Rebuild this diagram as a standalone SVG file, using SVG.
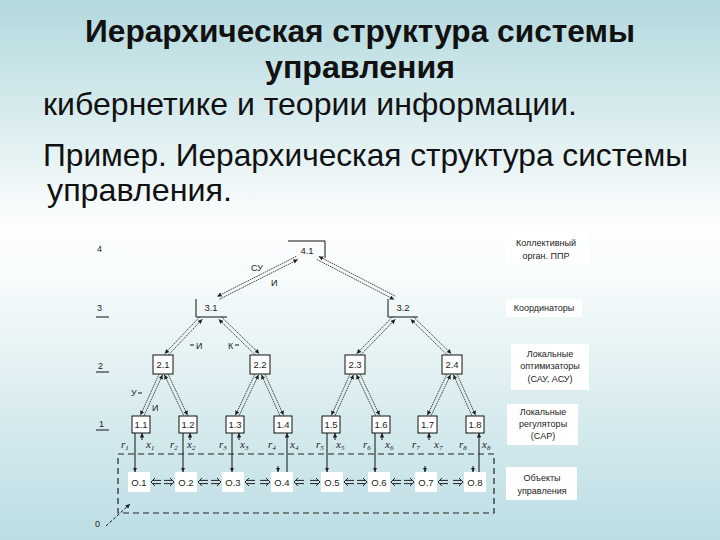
<svg xmlns="http://www.w3.org/2000/svg" xmlns:xlink="http://www.w3.org/1999/xlink" width="720" height="540" viewBox="0 0 720 540">
<defs>
<linearGradient id="bg" x1="0" y1="0" x2="0" y2="1">
<stop offset="0" stop-color="#b3d9de"/>
<stop offset="0.42" stop-color="#fdfefe"/>
<stop offset="0.52" stop-color="#f6fbfb"/>
<stop offset="1" stop-color="#bcdde4"/>
</linearGradient>
<marker id="ah" viewBox="0 0 6 6" refX="6" refY="3" markerWidth="4.5" markerHeight="4.5" orient="auto-start-reverse" markerUnits="userSpaceOnUse"><path d="M0,0 L6,3 L0,6 z" fill="#222"/></marker>
<g id="dl"><path d="M4,-4 L0,0 L4,4 M2,-1.6 H10 M2,1.6 H10" fill="none" stroke="#222" stroke-width="1"/></g>
<g id="dr"><path d="M-4,-4 L0,0 L-4,4 M-2,-1.6 H-10 M-2,1.6 H-10" fill="none" stroke="#222" stroke-width="1"/></g>
<style>
.t1{font-family:"Liberation Sans",Arial,sans-serif;font-weight:bold;font-size:32px;fill:#111}
.t2{font-family:"Liberation Sans",Arial,sans-serif;font-size:32px;fill:#111}
.nl{font-family:"Liberation Sans",Arial,sans-serif;font-size:9.5px;fill:#222;text-anchor:middle}
.lab{font-family:"Liberation Sans",Arial,sans-serif;font-size:9px;fill:#222;text-anchor:middle}
.lv{font-family:"Liberation Sans",Arial,sans-serif;font-size:9px;fill:#222}
.rx{font-family:"Liberation Serif","Times New Roman",serif;font-style:italic;font-size:11px;fill:#222}
.box{fill:#fff;stroke:#111;stroke-width:1}
.obox{fill:#fff;stroke:none}
.br{fill:none;stroke:#111;stroke-width:1}
.cn{fill:none;stroke:#333;stroke-width:0.9;stroke-dasharray:1.6 0.8}
.vl{fill:none;stroke:#111;stroke-width:1}
.dash{fill:none;stroke:#222;stroke-width:1.2;stroke-dasharray:6 4}
.wb{fill:#fff;stroke:none}
</style>
</defs>
<rect x="0" y="0" width="720" height="540" fill="url(#bg)"/>

<g id="title">
<text class="t1" x="360" y="42" text-anchor="middle" textLength="550" lengthAdjust="spacingAndGlyphs">Иерархическая структура системы</text>
<text class="t1" x="360" y="78" text-anchor="middle" textLength="190" lengthAdjust="spacingAndGlyphs">управления</text>
<text class="t2" x="43" y="115" textLength="534" lengthAdjust="spacingAndGlyphs">кибернетике и теории информации.</text>
<text class="t2" x="43" y="166" font-size="31" textLength="645" lengthAdjust="spacingAndGlyphs">Пример. Иерархическая структура системы</text>
<text class="t2" x="47" y="201" textLength="185" lengthAdjust="spacingAndGlyphs">управления.</text>
</g>

<g id="levels">
<text class="lv" x="97" y="252">4</text>
<text class="lv" x="97" y="311">3</text>
<path class="vl" d="M96,317 H109 M96,372 H109 M96,430 H109"/>
<text class="lv" x="98" y="369">2</text>
<text class="lv" x="99" y="427">1</text>
<text class="lv" x="95" y="527">0</text>
</g>

<g id="legend">
<rect class="wb" x="505" y="232" width="84" height="32"/>
<text class="lab" x="546" y="246">Коллективный</text>
<text class="lab" x="546" y="259">орган. ППР</text>
<rect class="wb" x="506" y="299" width="76" height="18"/>
<text class="lab" x="544" y="311">Координаторы</text>
<rect class="wb" x="511" y="344" width="78" height="46"/>
<text class="lab" x="550" y="357">Локальные</text>
<text class="lab" x="550" y="369">оптимизаторы</text>
<text class="lab" x="550" y="382">(САУ, АСУ)</text>
<rect class="wb" x="507" y="404" width="71" height="41"/>
<text class="lab" x="543" y="415">Локальные</text>
<text class="lab" x="543" y="427">регуляторы</text>
<text class="lab" x="543" y="439">(САР)</text>
<rect class="wb" x="506" y="467" width="71" height="33"/>
<text class="lab" x="542" y="481">Объекты</text>
<text class="lab" x="542" y="494">управления</text>
</g>

<g id="connectors">
<line class="cn" x1="296.2" y1="256.4" x2="217.2" y2="296.4" marker-end="url(#ah)"/>
<line class="cn" x1="297.8" y1="259.6" x2="218.8" y2="299.6" marker-start="url(#ah)"/>
<line class="cn" x1="317.2" y1="259.6" x2="394.2" y2="299.6" marker-end="url(#ah)"/>
<line class="cn" x1="318.8" y1="256.4" x2="395.8" y2="296.4" marker-start="url(#ah)"/>
<line class="cn" x1="199.7" y1="316.8" x2="164.7" y2="353.8" marker-end="url(#ah)"/>
<line class="cn" x1="202.3" y1="319.2" x2="167.3" y2="356.2" marker-start="url(#ah)"/>
<line class="cn" x1="218.7" y1="319.3" x2="256.7" y2="356.3" marker-start="url(#ah)"/>
<line class="cn" x1="221.3" y1="316.7" x2="259.3" y2="353.7" marker-end="url(#ah)"/>
<line class="cn" x1="392.7" y1="316.7" x2="356.7" y2="353.7" marker-end="url(#ah)"/>
<line class="cn" x1="395.3" y1="319.3" x2="359.3" y2="356.3" marker-start="url(#ah)"/>
<line class="cn" x1="410.7" y1="319.3" x2="448.7" y2="356.3" marker-start="url(#ah)"/>
<line class="cn" x1="413.3" y1="316.7" x2="451.3" y2="353.7" marker-end="url(#ah)"/>
<line class="cn" x1="159.4" y1="373.3" x2="140.4" y2="415.3" marker-end="url(#ah)"/>
<line class="cn" x1="162.6" y1="374.7" x2="143.6" y2="416.7" marker-start="url(#ah)"/>
<line class="cn" x1="164.4" y1="374.8" x2="184.4" y2="416.8" marker-start="url(#ah)"/>
<line class="cn" x1="167.6" y1="373.2" x2="187.6" y2="415.2" marker-end="url(#ah)"/>
<line class="cn" x1="255.4" y1="373.2" x2="235.4" y2="415.2" marker-end="url(#ah)"/>
<line class="cn" x1="258.6" y1="374.8" x2="238.6" y2="416.8" marker-start="url(#ah)"/>
<line class="cn" x1="261.4" y1="374.7" x2="280.4" y2="416.7" marker-start="url(#ah)"/>
<line class="cn" x1="264.6" y1="373.3" x2="283.6" y2="415.3" marker-end="url(#ah)"/>
<line class="cn" x1="350.4" y1="373.3" x2="331.4" y2="415.3" marker-end="url(#ah)"/>
<line class="cn" x1="353.6" y1="374.7" x2="334.6" y2="416.7" marker-start="url(#ah)"/>
<line class="cn" x1="356.4" y1="374.8" x2="376.4" y2="416.8" marker-start="url(#ah)"/>
<line class="cn" x1="359.6" y1="373.2" x2="379.6" y2="415.2" marker-end="url(#ah)"/>
<line class="cn" x1="447.4" y1="373.2" x2="427.4" y2="415.2" marker-end="url(#ah)"/>
<line class="cn" x1="450.6" y1="374.8" x2="430.6" y2="416.8" marker-start="url(#ah)"/>
<line class="cn" x1="453.4" y1="374.7" x2="472.4" y2="416.7" marker-start="url(#ah)"/>
<line class="cn" x1="456.6" y1="373.3" x2="475.6" y2="415.3" marker-end="url(#ah)"/>

<text class="lv" x="251" y="271">СУ</text>
<text class="lv" x="271" y="286">И</text>
<text class="lv" x="196" y="349">И</text>
<path class="vl" d="M190,345 H194" stroke-width="0.7"/>
<text class="lv" x="228" y="349">К</text>
<path class="vl" d="M235,345 H239" stroke-width="0.7"/>
<text class="lv" x="131" y="396">У</text>
<path class="vl" d="M138,393 H142" stroke-width="0.7"/>
<text class="lv" x="152" y="411">И</text>

<path class="vl" d="M135,433 V472" marker-end="url(#ah)"/>
<path class="vl" d="M183,433 V472" marker-end="url(#ah)"/>
<path class="vl" d="M232,433 V472" marker-end="url(#ah)"/>
<path class="vl" d="M287,472 V433" marker-end="url(#ah)"/>
<path class="vl" d="M327,433 V472" marker-end="url(#ah)"/>
<path class="vl" d="M375,433 V472" marker-end="url(#ah)"/>
<path class="vl" d="M479,472 V433" marker-end="url(#ah)"/>
<path class="vl" d="M142,440 V433" marker-end="url(#ah)"/>
<path class="vl" d="M190,440 V433" marker-end="url(#ah)"/>
<path class="vl" d="M239,440 V433" marker-end="url(#ah)"/>
<path class="vl" d="M335,440 V433" marker-end="url(#ah)"/>
<path class="vl" d="M382,440 V433" marker-end="url(#ah)"/>
<path class="vl" d="M429,440 V433" marker-end="url(#ah)"/>
<path class="vl" d="M278,466 V472" marker-end="url(#ah)"/>
<path class="vl" d="M425,466 V472" marker-end="url(#ah)"/>
<path class="vl" d="M473,466 V472" marker-end="url(#ah)"/>

<text class="rx" x="121" y="448">r<tspan dy="2" font-size="7">1</tspan></text>
<text class="rx" x="146" y="448">x<tspan dy="2" font-size="7">1</tspan></text>
<text class="rx" x="170" y="448">r<tspan dy="2" font-size="7">2</tspan></text>
<text class="rx" x="187" y="448">x<tspan dy="2" font-size="7">2</tspan></text>
<text class="rx" x="219" y="448">r<tspan dy="2" font-size="7">3</tspan></text>
<text class="rx" x="240" y="448">x<tspan dy="2" font-size="7">3</tspan></text>
<text class="rx" x="268" y="448">r<tspan dy="2" font-size="7">4</tspan></text>
<text class="rx" x="290" y="448">x<tspan dy="2" font-size="7">4</tspan></text>
<text class="rx" x="316" y="448">r<tspan dy="2" font-size="7">5</tspan></text>
<text class="rx" x="336" y="448">x<tspan dy="2" font-size="7">5</tspan></text>
<text class="rx" x="363" y="448">r<tspan dy="2" font-size="7">6</tspan></text>
<text class="rx" x="385" y="448">x<tspan dy="2" font-size="7">6</tspan></text>
<text class="rx" x="412" y="448">r<tspan dy="2" font-size="7">7</tspan></text>
<text class="rx" x="434" y="448">x<tspan dy="2" font-size="7">7</tspan></text>
<text class="rx" x="459" y="448">r<tspan dy="2" font-size="7">8</tspan></text>
<text class="rx" x="482" y="448">x<tspan dy="2" font-size="7">8</tspan></text>

<path class="dash" d="M118,454 H494 V513 H118 Z"/>
<path class="vl" d="M106,526 L130,504" stroke-dasharray="3 2" marker-end="url(#ah)"/>

<use xlink:href="#dl" x="151" y="482"/><use xlink:href="#dr" x="174" y="482"/>
<use xlink:href="#dl" x="198" y="482"/><use xlink:href="#dr" x="221" y="482"/>
<use xlink:href="#dl" x="245" y="482"/><use xlink:href="#dr" x="270" y="482"/>
<use xlink:href="#dl" x="294" y="482"/><use xlink:href="#dr" x="320" y="482"/>
<use xlink:href="#dl" x="344" y="482"/><use xlink:href="#dr" x="367" y="482"/>
<use xlink:href="#dl" x="391" y="482"/><use xlink:href="#dr" x="414" y="482"/>
<use xlink:href="#dl" x="438" y="482"/><use xlink:href="#dr" x="463" y="482"/>
</g>

<g id="n41"><path class="br" d="M288,241 H325 V258"/><text class="nl" x="307" y="254">4.1</text></g>
<g id="n31"><path class="br" d="M196,299 V317 H227"/><text class="nl" x="211" y="311">3.1</text></g>
<g id="n32"><path class="br" d="M388,299 V317 H418"/><text class="nl" x="403" y="311">3.2</text></g>

<g id="n21"><rect class="box" x="153" y="355" width="20" height="19"/><text class="nl" x="163" y="368">2.1</text></g>
<g id="n22"><rect class="box" x="250" y="355" width="20" height="19"/><text class="nl" x="260" y="368">2.2</text></g>
<g id="n23"><rect class="box" x="345" y="355" width="20" height="19"/><text class="nl" x="355" y="368">2.3</text></g>
<g id="n24"><rect class="box" x="442" y="355" width="20" height="19"/><text class="nl" x="452" y="368">2.4</text></g>

<g id="n11"><rect class="box" x="132" y="416" width="18" height="17"/><text class="nl" x="141" y="428">1.1</text></g>
<g id="n12"><rect class="box" x="179" y="416" width="18" height="17"/><text class="nl" x="188" y="428">1.2</text></g>
<g id="n13"><rect class="box" x="226" y="416" width="18" height="17"/><text class="nl" x="235" y="428">1.3</text></g>
<g id="n14"><rect class="box" x="274" y="416" width="18" height="17"/><text class="nl" x="283" y="428">1.4</text></g>
<g id="n15"><rect class="box" x="322" y="416" width="18" height="17"/><text class="nl" x="331" y="428">1.5</text></g>
<g id="n16"><rect class="box" x="372" y="416" width="18" height="17"/><text class="nl" x="381" y="428">1.6</text></g>
<g id="n17"><rect class="box" x="418" y="416" width="19" height="17"/><text class="nl" x="427.5" y="428">1.7</text></g>
<g id="n18"><rect class="box" x="466" y="416" width="18" height="17"/><text class="nl" x="475" y="428">1.8</text></g>

<g id="o1"><rect class="obox" x="128" y="472" width="22" height="20"/><text class="nl" x="139" y="486">O.1</text></g>
<g id="o2"><rect class="obox" x="175" y="472" width="22" height="20"/><text class="nl" x="186" y="486">O.2</text></g>
<g id="o3"><rect class="obox" x="222" y="472" width="22" height="20"/><text class="nl" x="233" y="486">O.3</text></g>
<g id="o4"><rect class="obox" x="271" y="472" width="22" height="20"/><text class="nl" x="282" y="486">O.4</text></g>
<g id="o5"><rect class="obox" x="321" y="472" width="22" height="20"/><text class="nl" x="332" y="486">O.5</text></g>
<g id="o6"><rect class="obox" x="368" y="472" width="22" height="20"/><text class="nl" x="379" y="486">O.6</text></g>
<g id="o7"><rect class="obox" x="415" y="472" width="22" height="20"/><text class="nl" x="426" y="486">O.7</text></g>
<g id="o8"><rect class="obox" x="464" y="472" width="22" height="20"/><text class="nl" x="475" y="486">O.8</text></g>
</svg>
